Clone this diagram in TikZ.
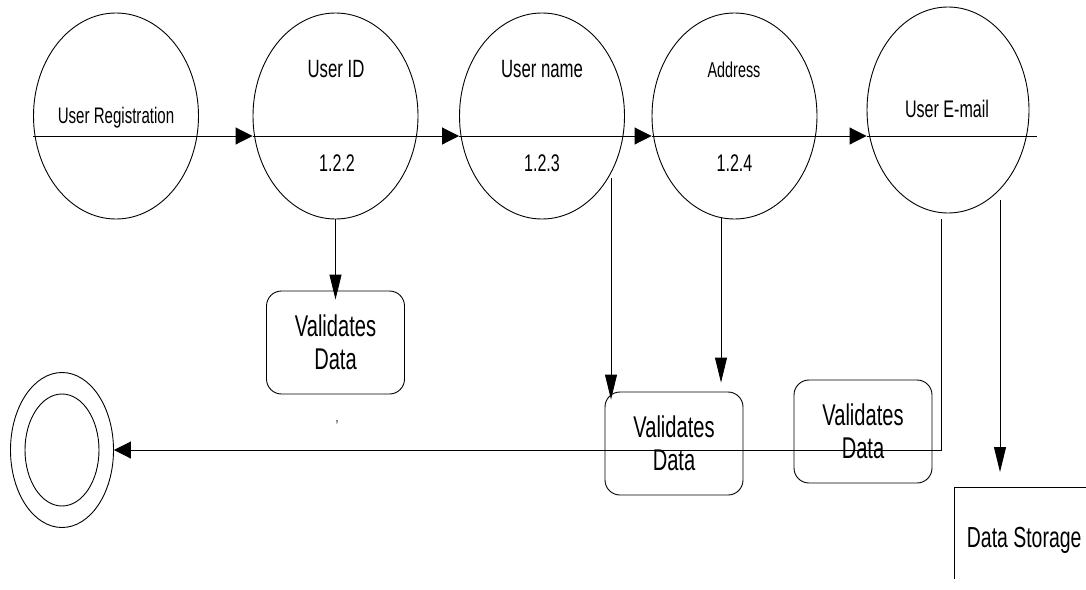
\documentclass[tikz,border=0pt]{standalone}
\usepackage{fontspec}
\setmainfont{Liberation Sans}[FakeStretch=0.67]
\usetikzlibrary{shapes.geometric,arrows.meta}

\newcommand{\fsz}[1]{\fontsize{#1}{#1}\selectfont}

\tikzset{
  proc/.style={ellipse,draw,line width=0.9pt,inner sep=0pt,minimum width=165pt,minimum height=206pt},
  valbox/.style={rectangle,draw,rounded corners=15pt,line width=0.9pt,minimum width=138pt,minimum height=103pt,
    align=center,inner sep=0pt,font=\fontsize{30}{33}\selectfont},
  lbl/.style={anchor=base,inner sep=0pt},
  flowarrow/.style={line width=0.9pt,-{Triangle[length=17pt,width=17pt]}},
  dnarrow/.style={line width=0.9pt,-{Triangle[length=25pt,width=12pt]}},
}

\begin{document}
\begin{tikzpicture}[x=1pt,y=-1pt]
\useasboundingbox (0,0) rectangle (1086,589);
\pgfmathsetmacro{\rowy}{116}
\pgfmathsetmacro{\flowy}{136}
% processes
\node[proc] (reg) at (116,\rowy) {};
\node[proc] (uid) at (335.5,\rowy) {};
\node[proc] (uname) at (542,\rowy) {};
\node[proc] (addr) at (734.5,\rowy) {};
\node[proc,minimum width=162pt] (mail) at (948,110) {};
\node[lbl,font=\fsz{22.5}] (regtxt) at (116,123) {User Registration};
\node[lbl,font=\fsz{25}] (uidtxt) at (336,77) {User ID};
\node[lbl,font=\fsz{24}] (uidno) at (337,171) {1.2.2};
\node[lbl,font=\fsz{25}] (unametxt) at (542,77) {User name};
\node[lbl,font=\fsz{24}] (unameno) at (542,171) {1.2.3};
\node[lbl,font=\fsz{21.5}] (addrtxt) at (734,77) {Address};
\node[lbl,font=\fsz{24}] (addrno) at (734.5,171) {1.2.4};
\node[lbl,font=\fsz{24}] (mailtxt) at (947,117) {User E-mail};
% flow along the row
\draw[flowarrow] ([yshift=-20pt]reg.west) -- ([yshift=-20pt]uid.west);
\draw[flowarrow] ([yshift=-20pt]uid.west) -- ([yshift=-20pt]uname.west);
\draw[flowarrow] ([yshift=-20pt]uname.west) -- ([yshift=-20pt]addr.west);
\draw[flowarrow] ([yshift=-20pt]addr.west) -- ([yshift=-26pt]mail.west);
\coordinate (flowend) at (1037,\flowy);
\draw[line width=0.9pt] ([yshift=-26pt]mail.west) -- (flowend);
% checks
\node[valbox] (val1) at (335.5,342.5) {Validates\\Data};
\node[valbox] (val2) at (674,443.5) {Validates\\Data};
\node[valbox] (val3) at (863,431.5) {Validates\\Data};
\node[font=\fsz{16},inner sep=0pt] (tick) at (337,426) {’};
% end and store
\node[ellipse,draw,line width=0.9pt,inner sep=0pt,minimum width=103pt,minimum height=155pt] (endc) at (62,450) {};
\node[ellipse,draw,line width=0.9pt,inner sep=0pt,minimum width=74pt,minimum height=112pt] (endin) at (endc.center) {};
\node[anchor=north west,inner sep=0pt,minimum width=140pt,minimum height=106pt,font=\fsz{29}] (store) at (954,487) {Data Storage};
\draw[line width=0.9pt] ([xshift=132pt]store.north west) -- (store.north west) -- ([yshift=-92pt]store.north west);
% down links
\coordinate (s3) at (611,178);
\coordinate (s4) at (721,218);
\coordinate (s5) at (941,219);
\coordinate (s6) at (1000,200);
\draw[dnarrow,shorten >=-9pt] (uid.south) -- (val1.north);
\draw[dnarrow,shorten >=-8pt] (s3) -- (s3 |- val2.north);
\draw[dnarrow,shorten >=9pt] (s4) -- (s4 |- val2.north);
\draw[flowarrow] (s5) |- (endc.east);
\draw[dnarrow,shorten >=15pt] (s6) -- (s6 |- store.north);
\end{tikzpicture}
\end{document}
